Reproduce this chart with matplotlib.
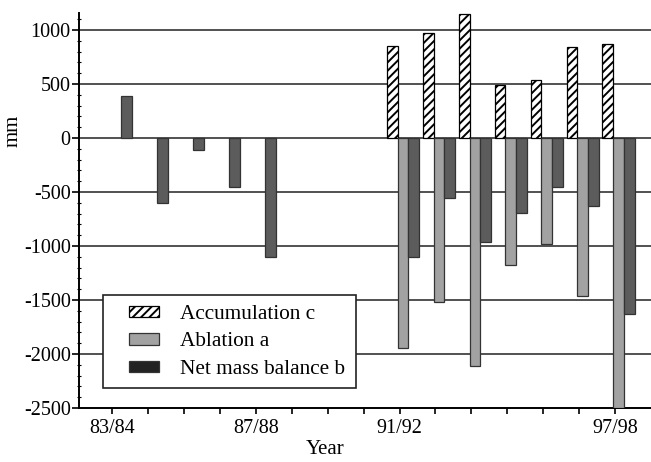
import numpy as np
import matplotlib
matplotlib.use('Agg')
import matplotlib.pyplot as plt
from matplotlib.patches import Rectangle

plt.rcParams['font.family'] = ['Liberation Serif', 'DejaVu Serif']
plt.rcParams['axes.unicode_minus'] = False
plt.rcParams['hatch.linewidth'] = 1.4

# mass balance per hydrological year (mm)
years = ['83/84', '84/85', '85/86', '86/87', '87/88', '88/89', '89/90', '90/91',
         '91/92', '92/93', '93/94', '94/95', '95/96', '96/97', '97/98']
accumulation = [np.nan] * 8 + [850, 970, 1150, 490, 540, 840, 870]
ablation = [np.nan] * 8 + [-1940, -1520, -2110, -1180, -980, -1460, -2500]
net_balance = [390, -600, -110, -450, -1100, np.nan, np.nan, np.nan,
               -1100, -560, -960, -690, -450, -630, -1630]
labelled_years = ['83/84', '87/88', '91/92', '97/98']

x = np.arange(len(years))
w = 0.30

fig = plt.figure(figsize=(6.51, 4.62), dpi=100)
ax = fig.add_axes([0.1214, 0.1169, 0.8786, 0.8556])

# horizontal grid lines
for yv in range(-2000, 1001, 500):
    ax.axhline(yv, color='#333333', lw=1.2, zorder=1)

b1 = ax.bar(x - 0.20, accumulation, w, facecolor='white', edgecolor='black',
            hatch='////', lw=0.9, zorder=3, label='Accumulation c')
b2 = ax.bar(x + 0.10, ablation, w, color='#a2a2a2', edgecolor='#333333',
            lw=0.9, zorder=3, label='Ablation a')
b3 = ax.bar(x + 0.40, net_balance, w, color='#5c5c5c', edgecolor='#333333',
            lw=0.9, zorder=3, label='Net mass balance b')

ax.set_xlim(-0.92, 15.0)
ax.set_ylim(-2500, 1160)

ax.set_xticks(x)
ax.set_xticklabels([y if y in labelled_years else '' for y in years], fontsize=14.5)
ax.set_yticks(np.arange(-2500, 1001, 500))
ax.set_yticks(np.arange(-2500, 1101, 100), minor=True)
ax.tick_params(axis='y', labelsize=14.5, length=5, width=1.2, pad=1, direction='out')
ax.tick_params(axis='y', which='minor', length=3, width=0.8, direction='inout')
ax.tick_params(axis='x', length=4, width=1.2, pad=4, direction='out')

for s in ['top', 'right']:
    ax.spines[s].set_visible(False)
for s in ['left', 'bottom']:
    ax.spines[s].set_linewidth(1.4)

ax.set_xlabel('Year', fontsize=15)
ax.xaxis.set_label_coords(0.43, -0.082)
ax.set_ylabel('mm', fontsize=15)
ax.yaxis.set_label_coords(-0.098, 0.70)

# legend box
fig.patches.append(Rectangle((0.1582, 0.1602), 0.3886, 0.2013, transform=fig.transFigure,
                             facecolor='white', edgecolor='#222222', lw=1.2, zorder=4))
leg = fig.legend(handles=[b1, b2, b3], loc='upper left',
                 bbox_to_anchor=(129 / 651, 1 - 305 / 462), frameon=False,
                 fontsize=15.3, handlelength=1.4, handleheight=0.45, handletextpad=1.0,
                 labelspacing=0.4, borderpad=0, borderaxespad=0)
leg.set_zorder(5)
leg.legend_handles[2].set_facecolor('#222222')

fig.savefig('out.png', dpi=100)
